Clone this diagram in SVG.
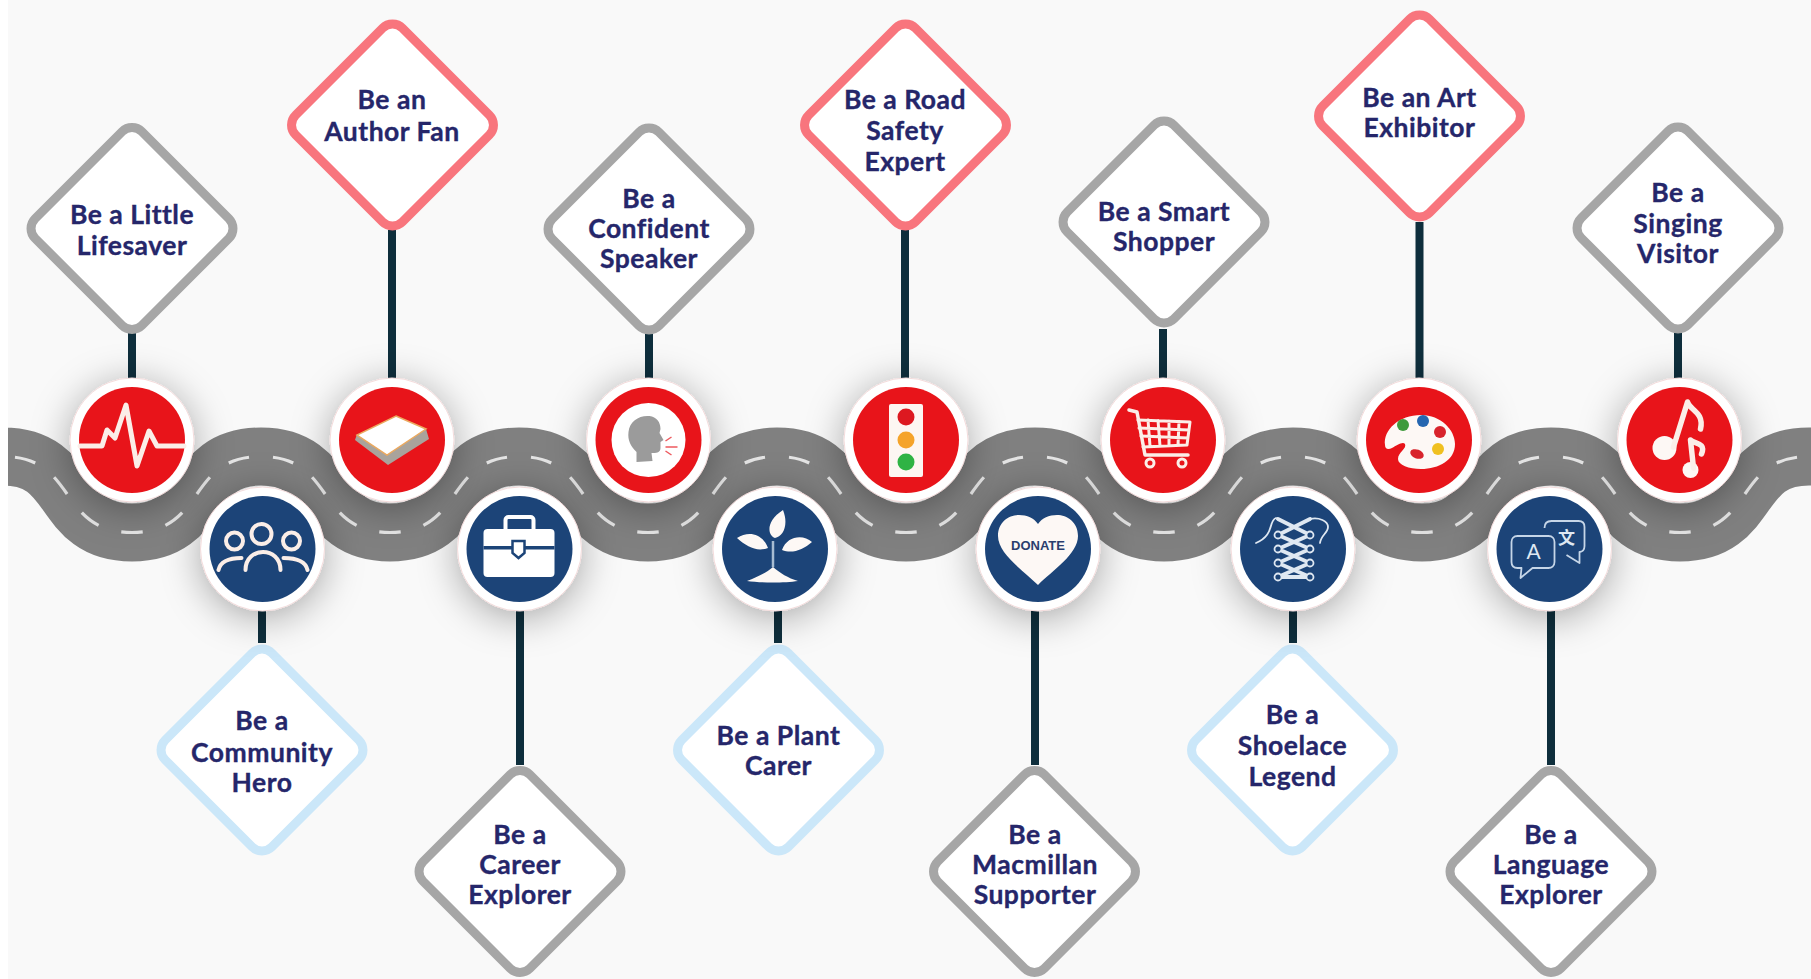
<svg xmlns="http://www.w3.org/2000/svg" width="1811" height="979" viewBox="0 0 1811 979">
<style>
.d{stroke-width:9;fill:#fff}
.gray{stroke:#a6a6a6}.pink{stroke:#f8757d}.sky{stroke:#cbe7f9}
.t{font-family:"Lato","Liberation Sans",sans-serif;font-weight:700;font-size:26.5px;fill:#25266a;stroke:#25266a;stroke-width:.35px;text-anchor:middle;letter-spacing:.5px}
.c{stroke:#0e2e3c;stroke-width:8;fill:none}
.o{fill:#fff;stroke:#f4dcdc;stroke-width:1;filter:url(#sh)}
.r{fill:#e8141a}.b{fill:#1c4478}
.w{fill:none;stroke:#fbeee8;stroke-linecap:round;stroke-linejoin:round}
.f{fill:#fdf8f5}
</style>
<defs>
<filter id="sh" x="-80%" y="-80%" width="260%" height="270%"><feDropShadow dx="0" dy="6" stdDeviation="19" flood-color="#000" flood-opacity=".34"/></filter>
<rect id="dia" class="d" x="-75.500" y="-75.500" width="151" height="151" rx="14"/>
</defs>
<rect width="1811" height="979" fill="#fff"/>
<rect x="8" width="1803" height="979" fill="#f9f9f9"/>
<g id="road">
<path d="M8 456.5L3 456.5C78 456.5 57 532.5 132 532.5S186 456.5 261 456.5S315 532.5 390 532.5S444 456.5 519 456.5S573 532.5 648 532.5S702 456.5 777 456.5S831 532.5 906 532.5S960 456.5 1035 456.5S1089 532.5 1164 532.5S1218 456.5 1293 456.5S1347 532.5 1422 532.5S1476 456.5 1551 456.5S1605 532.5 1680 532.5S1734 456.5 1809 456.5L1820 456.5" fill="none" stroke="#808080" stroke-width="58"/>
<path d="M3 456.5C78 456.5 57 532.5 132 532.5S186 456.5 261 456.5S315 532.5 390 532.5S444 456.5 519 456.5S573 532.5 648 532.5S702 456.5 777 456.5S831 532.5 906 532.5S960 456.5 1035 456.5S1089 532.5 1164 532.5S1218 456.5 1293 456.5S1347 532.5 1422 532.5S1476 456.5 1551 456.5S1605 532.5 1680 532.5S1734 456.5 1809 456.5" fill="none" stroke="#e4e4e4" stroke-width="3.200" pathLength="49" stroke-dasharray=".47 .53" stroke-dashoffset="-.265"/>
<rect width="8" y="400" height="180" fill="#fff"/>
</g>
<g id="connectors">
<path class="c" d="M132 333V380M392 230V380M649 334V380M905 230V380M1163 329V380M1419.500 222V380M1678 333V380"/>
<path class="c" d="M262 608V643M520 608V765M778 608V643M1035 608V765M1293 608V643M1551 608V765"/>
</g>

<g id="lifesaver">
<use href="#dia" class="gray" transform="translate(132 228.500) rotate(45)"/>
<text class="t" x="132" y="224"><tspan x="132">Be a Little</tspan><tspan x="132" dy="31">Lifesaver</tspan></text>
<circle class="o" cx="132" cy="440" r="62"/><circle class="r" cx="132" cy="440" r="53"/>
<path class="w" stroke-width="5" transform="translate(132 440)" d="M-52 6H-30L-25 -10L-17 -2L-6 -35L5 26L17 -9L25 6H52"/>
</g>
<g id="author-fan">
<use href="#dia" class="pink" transform="translate(392.500 125) rotate(45)"/>
<text class="t" x="392" y="109"><tspan x="392">Be an</tspan><tspan x="392" dy="32">Author Fan</tspan></text>
<circle class="o" cx="392" cy="440" r="62"/><circle class="r" cx="392" cy="440" r="53"/>
<g transform="translate(392 440)">
<path fill="#a9a39c" d="M-37 0L-35 -6L34 -11L37 -1L-4 25Z"/>
<path fill="#fff" stroke="#eba95f" stroke-width="1.500" d="M4 -24L34 -11L-5 15L-35 -5Z"/>
</g>
</g>
<g id="confident-speaker">
<use href="#dia" class="gray" transform="translate(649 229) rotate(45)"/>
<text class="t" x="649" y="208"><tspan x="649">Be a</tspan><tspan x="649" dy="30">Confident</tspan><tspan x="649" dy="30">Speaker</tspan></text>
<circle class="o" cx="648.500" cy="440" r="62"/><circle class="r" cx="648.500" cy="440" r="53"/>
<g transform="translate(648.500 440)">
<circle r="37" fill="#fff"/>
<path fill="#9b9b9b" d="M-12 22L-12 12C-18 6 -21 0 -20 -8C-19 -19 -9 -25 1 -24C8 -23 12 -18 12 -11L11 -7L15 0L12 2L12 8C12 12 9 13 5 13L3 13L4 21Z"/>
<path fill="none" stroke="#ee5a5f" stroke-width="1.500" d="M17 7H29M17 1L23 -3M17 11L23 15"/>
</g>
</g>
<g id="road-safety-expert">
<use href="#dia" class="pink" transform="translate(905.500 125) rotate(45)"/>
<text class="t" x="905" y="109"><tspan x="905">Be a Road</tspan><tspan x="905" dy="31">Safety</tspan><tspan x="905" dy="31">Expert</tspan></text>
<circle class="o" cx="906" cy="440" r="62"/><circle class="r" cx="906" cy="440" r="53"/>
<g transform="translate(906 440)">
<rect x="-17" y="-36" width="34" height="73" rx="2" fill="#fdf6f2"/>
<circle cy="-23" r="8.500" fill="#dd1820"/><circle r="8.500" fill="#f5a32a"/><circle cy="22" r="8.500" fill="#2fb344"/>
</g>
</g>
<g id="smart-shopper">
<use href="#dia" class="gray" transform="translate(1164 222) rotate(45)"/>
<text class="t" x="1164" y="221"><tspan x="1164">Be a Smart</tspan><tspan x="1164" dy="30">Shopper</tspan></text>
<circle class="o" cx="1163" cy="440" r="62"/><circle class="r" cx="1163" cy="440" r="53"/>
<g class="w" transform="translate(1163 440)" stroke-width="3">
<path stroke-width="3.500" d="M-34 -30L-26 -28L-18 15H25"/>
<path d="M-25 -20L27 -18L24 5L-20 7M-24 -12L26 -10M-22 -4L25 -2M-15 -20L-13 6M-5 -19.500L-3 6M6 -19L6 6M16 -18.500L15 5"/>
<circle cx="-13" cy="23" r="4"/><circle cx="19" cy="23" r="4"/>
</g>
</g>
<g id="art-exhibitor">
<use href="#dia" class="pink" transform="translate(1419.500 116) rotate(45)"/>
<text class="t" x="1419.500" y="107"><tspan x="1419.500">Be an Art</tspan><tspan x="1419.500" dy="30">Exhibitor</tspan></text>
<circle class="o" cx="1419" cy="440" r="62"/><circle class="r" cx="1419" cy="440" r="53"/>
<g transform="translate(1419 440)">
<path class="f" d="M-34 5C-36 -10 -20 -25 2 -25C22 -25 36 -10 36 4C36 20 20 29 2 29C-10 29 -21 25 -21 19C-21 12 -12 9 -14 4C-16 1 -22 5 -27 8C-31 10 -34 9 -34 5Z"/>
<circle cx="-16" cy="-15" r="6" fill="#3e9a3c"/><circle cx="4" cy="-19" r="6" fill="#2566b0"/><circle cx="21" cy="-8" r="6" fill="#d8242c"/><circle cx="19" cy="9" r="6" fill="#f0c020"/>
<ellipse cx="-2" cy="14" rx="7" ry="4.500" fill="#d8242c" transform="rotate(20 -2 14)"/>
</g>
</g>
<g id="singing-visitor">
<use href="#dia" class="gray" transform="translate(1678 228) rotate(45)"/>
<text class="t" x="1678" y="202"><tspan x="1678">Be a</tspan><tspan x="1678" dy="31">Singing</tspan><tspan x="1678" dy="30">Visitor</tspan></text>
<circle class="o" cx="1679.500" cy="440" r="62"/><circle class="r" cx="1679.500" cy="440" r="53"/>
<g transform="translate(1679.500 440)">
<circle class="f" cx="-15" cy="8" r="12"/><circle class="f" cx="11" cy="30" r="8"/>
<path class="w" stroke-width="5.500" d="M-6 7L8 -38C10 -30 25 -28 21 -11M14 28L11 0C14 4 27 2 22 14"/>
</g>
</g>

<g id="community-hero">
<use href="#dia" class="sky" transform="translate(262 750) rotate(45)"/>
<text class="t" x="262" y="730"><tspan x="262">Be a</tspan><tspan x="262" dy="32">Community</tspan><tspan x="262" dy="30">Hero</tspan></text>
<circle class="o" cx="262.500" cy="549" r="62"/><circle class="b" cx="262.500" cy="549" r="53"/>
<g class="w" transform="translate(262.500 549)" stroke-width="4">
<circle cx="-1" cy="-15" r="10"/><circle cx="-28" cy="-8" r="8.500"/><circle cx="29" cy="-8" r="8.500"/>
<path d="M-17 21C-17 -3 18 -3 18 21M-44 21C-42 12 -32 9 -21 9M21 9C32 9 43 12 45 21"/>
</g>
</g>
<g id="career-explorer">
<use href="#dia" class="gray" transform="translate(520 871.500) rotate(45)"/>
<text class="t" x="520" y="844"><tspan x="520">Be a</tspan><tspan x="520" dy="30">Career</tspan><tspan x="520" dy="30">Explorer</tspan></text>
<circle class="o" cx="519.500" cy="549" r="62"/><circle class="b" cx="519.500" cy="549" r="53"/>
<g transform="translate(519.500 549)">
<rect x="-14" y="-32" width="28" height="15" rx="3" fill="none" stroke="#fff" stroke-width="4"/>
<rect x="-36" y="-20" width="71" height="48" rx="4" fill="#fff"/>
<rect x="-36" y="-3" width="71" height="3.500" fill="#1c4478"/>
<path fill="#fff" stroke="#1c4478" stroke-width="2.500" d="M-7 -8H5V4L-1 9L-7 4Z"/>
</g>
</g>
<g id="plant-carer">
<use href="#dia" class="sky" transform="translate(778.500 750) rotate(45)"/>
<text class="t" x="778.500" y="745"><tspan x="778.500">Be a Plant</tspan><tspan x="778.500" dy="30">Carer</tspan></text>
<circle class="o" cx="775" cy="549" r="62"/><circle class="b" cx="775" cy="549" r="53"/>
<g transform="translate(775 549)">
<path fill="none" stroke="#a7bcd2" stroke-width="2.500" d="M-2 -8V18"/>
<path class="f" d="M8 -39C14 -24 8 -12 0 -11C-8 -14 -9 -28 8 -39ZM-38 -11C-26 -19 -12 -15 -7 -1C-18 3 -28 -2 -38 -11ZM37 -7C28 -15 12 -13 7 1C17 5 28 1 37 -7ZM-28 32C-18 28 -9 24 -2 18C5 24 13 29 23 32C10 34 -15 34 -28 32Z"/>
</g>
</g>
<g id="macmillan-supporter">
<use href="#dia" class="gray" transform="translate(1034.500 871.500) rotate(45)"/>
<text class="t" x="1035" y="844"><tspan x="1035">Be a</tspan><tspan x="1035" dy="30">Macmillan</tspan><tspan x="1035" dy="30">Supporter</tspan></text>
<circle class="o" cx="1038" cy="549" r="62"/><circle class="b" cx="1038" cy="549" r="53"/>
<g transform="translate(1038 549)">
<path class="f" d="M0 36C-14 22 -40 5 -40 -13C-40 -27 -29 -34 -19 -34C-11 -34 -4 -31 0 -25C4 -31 11 -34 19 -34C29 -34 40 -27 40 -13C40 5 14 22 0 36Z"/>
<text x="0" y="1" text-anchor="middle" font-family="Liberation Sans,sans-serif" font-weight="700" font-size="13" fill="#2a3e6e">DONATE</text>
</g>
</g>
<g id="shoelace-legend">
<use href="#dia" class="sky" transform="translate(1292.500 750) rotate(45)"/>
<text class="t" x="1292.500" y="724"><tspan x="1292.500">Be a</tspan><tspan x="1292.500" dy="31">Shoelace</tspan><tspan x="1292.500" dy="31">Legend</tspan></text>
<circle class="o" cx="1293" cy="549" r="62"/><circle class="b" cx="1293" cy="549" r="53"/>
<g class="w" transform="translate(1293 549)" style="stroke:#dfe8f2">
<path stroke-width="4" d="M-15 -30L17 -14L-15 0L17 14L-15 28H17L-15 14L17 0L-15 -14L17 -30"/>
<path stroke-width="1.800" d="M-17 -31C-25 -28 -18 -14 -37 -6M17 -30C26 -32 35 -28 35 -22C35 -16 28 -14 27 -6"/>
<g stroke-width="1.800" fill="#1c4478"><circle cx="-15" cy="-14" r="3.500"/><circle cx="-15" cy="0" r="3.500"/><circle cx="-15" cy="14" r="3.500"/><circle cx="-15" cy="28" r="3.500"/><circle cx="17" cy="-14" r="3.500"/><circle cx="17" cy="0" r="3.500"/><circle cx="17" cy="14" r="3.500"/><circle cx="17" cy="28" r="3.500"/></g>
</g>
</g>
<g id="language-explorer">
<use href="#dia" class="gray" transform="translate(1551 871.500) rotate(45)"/>
<text class="t" x="1551" y="844"><tspan x="1551">Be a</tspan><tspan x="1551" dy="30">Language</tspan><tspan x="1551" dy="30">Explorer</tspan></text>
<circle class="o" cx="1549.500" cy="549" r="62"/><circle class="b" cx="1549.500" cy="549" r="53"/>
<g transform="translate(1549.500 549)">
<path fill="none" stroke="#c6d6e8" stroke-width="1.800" stroke-linejoin="round" d="M-5 -21C-5 -26 -2 -28 2 -28H29C33 -28 35 -26 35 -22V-3C35 1 33 3 30 3V14L17 6M-32 -13H-1C3 -13 5 -10 5 -7V13C5 17 2 19 -1 19H-17L-29 29L-28 19H-32C-36 19 -38 17 -38 13V-7C-38 -10 -36 -13 -32 -13Z"/>
<text x="-16" y="10" text-anchor="middle" font-family="Lato,sans-serif" font-size="21" fill="#dfe8f2">A</text>
<text x="17" y="-5" text-anchor="middle" font-family="Noto Sans CJK SC,sans-serif" font-size="17" font-weight="700" fill="#dfe8f2">文</text>
</g>
</g>
</svg>
